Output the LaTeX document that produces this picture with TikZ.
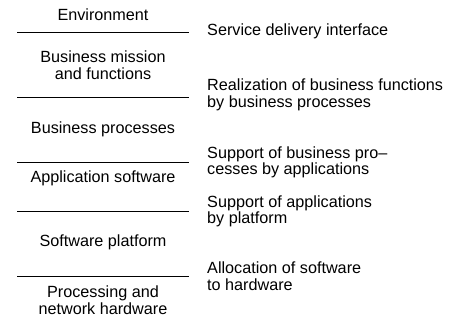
\documentclass[tikz,border=0pt]{standalone}
\usepackage{fontspec}
\setmainfont{Liberation Sans}
\tikzset{
  layer/.style={align=center, font=\fontsize{16.2}{16.6}\selectfont, inner sep=0pt},
  iface/.style={align=left, anchor=west, font=\fontsize{16.2}{16.6}\selectfont, inner sep=0pt},
  sepline/.style={line width=0.9pt}
}

\begin{document}
\begin{tikzpicture}[x=1pt, y=-1pt]
    \useasboundingbox (0,0) rectangle (452,322);
    % layers on the left
    \node[layer] (env) at (103, 15) {Environment};
    \node[layer] (mission) at (103, 65) {Business mission\\ and functions};
    \node[layer] (proc) at (103, 129) {Business processes};
    \node[layer] (appsw) at (103, 178) {Application software};
    \node[layer] (platf) at (103, 242) {Software platform};
    \node[layer] (hw) at (103, 300.5) {Processing and\\ network hardware};
    % separating lines
    \foreach \y in {32, 97, 162, 211, 276} {
        \draw[sepline] (17,\y) -- (189,\y);
    }
    % interfaces on the right
    \node[iface] (i1) at (207, 31) {Service delivery interface};
    \node[iface] (i2) at (207, 95) {Realization of business functions\\ by business processes};
    \node[iface] (i3) at (207, 162.5) {Support of business pro--\\ cesses by applications};
    \node[iface] (i4) at (207, 211.5) {Support of applications\\ by platform};
    \node[iface] (i5) at (207, 276.5) {Allocation of software\\ to hardware};
\end{tikzpicture}
\end{document}
